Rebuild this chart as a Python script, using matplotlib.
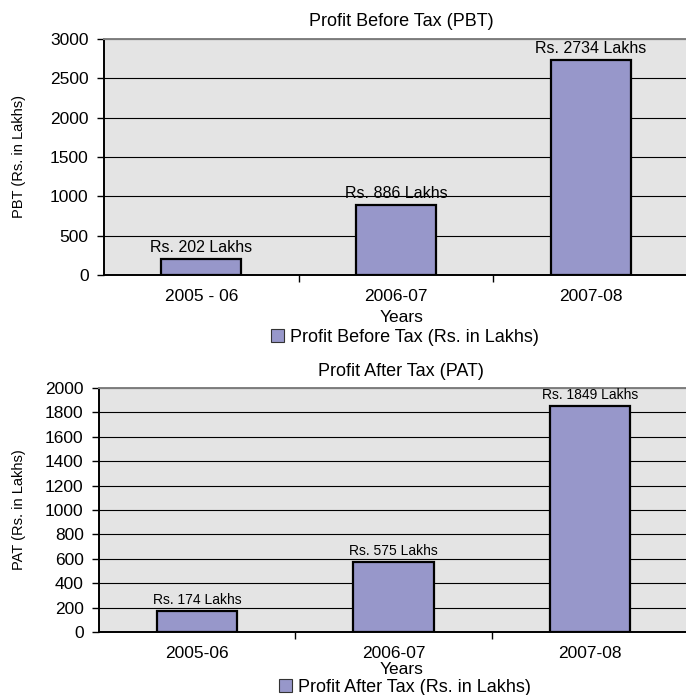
import matplotlib
matplotlib.use('Agg')
import matplotlib.pyplot as plt
from matplotlib.patches import Patch
import numpy as np

plt.rcParams['font.family'] = ['Liberation Sans', 'DejaVu Sans']

# Datos
pbt_years = ['2005 - 06', '2006-07', '2007-08']
pbt_values = [202, 886, 2734]
pbt_labels = ['Rs. 202 Lakhs', 'Rs. 886 Lakhs', 'Rs. 2734 Lakhs']

pat_years = ['2005-06', '2006-07', '2007-08']
pat_values = [174, 575, 1849]
pat_labels = ['Rs. 174 Lakhs', 'Rs. 575 Lakhs', 'Rs. 1849 Lakhs']

bar_color = '#9797CA'
bg_color = '#E4E4E4'

fig = plt.figure(figsize=(6.86, 6.95), dpi=100)


def draw_chart(rect, years, values, labels, ymax, ystep, title, ylabel,
               legend_text, label_size, title_y, ylabel_y, years_y, legend_y):
    ax = fig.add_axes(rect)
    ax.set_facecolor(bg_color)
    x = np.arange(len(years))
    ax.bar(x, values, width=0.41, color=bar_color, edgecolor='black',
           linewidth=1.6, zorder=3)
    for xi, v, lab in zip(x, values, labels):
        ax.annotate(lab, (xi, v), xytext=(0, 3), textcoords='offset points',
                    ha='center', va='bottom', fontsize=label_size, zorder=4)

    ax.set_xlim(-0.5, len(years) - 0.5)
    ax.set_ylim(0, ymax)
    ax.set_yticks(np.arange(0, ymax + 1, ystep))
    ax.yaxis.grid(True, color='black', linewidth=0.8, zorder=1)
    ax.set_axisbelow(True)

    ax.set_xticks(x)
    ax.set_xticklabels(years, fontsize=12.5)
    ax.set_xticks(np.arange(0.5, len(years) - 0.5 + 0.01, 1), minor=True)
    ax.tick_params(axis='x', which='major', length=0, pad=10)
    ax.tick_params(axis='x', which='minor', length=5, width=1, direction='out')
    ax.tick_params(axis='y', length=5, width=1, direction='out', labelsize=12.5, pad=6)

    for side in ['left', 'bottom']:
        ax.spines[side].set_color('black')
        ax.spines[side].set_linewidth(1.4)
    for side in ['top', 'right']:
        ax.spines[side].set_color('#808080')
        ax.spines[side].set_linewidth(1.4)

    fig.text(0.585, title_y, title, ha='center', va='center', fontsize=13)
    fig.text(0.027, ylabel_y, ylabel, ha='center', va='center', rotation=90, fontsize=10.5)
    fig.text(0.585, years_y, 'Years', ha='center', va='center', fontsize=12.5)
    fig.legend(handles=[Patch(facecolor=bar_color, edgecolor='#333333', linewidth=0.8)],
               labels=[legend_text], loc='center', bbox_to_anchor=(0.59, legend_y),
               frameon=False, fontsize=13, handlelength=0.75, handleheight=0.75,
               handletextpad=0.3, borderpad=0)
    return ax


draw_chart([104 / 686, 1 - 275 / 695, 584 / 686, 236 / 695],
           pbt_years, pbt_values, pbt_labels, 3000, 500,
           'Profit Before Tax (PBT)', 'PBT (Rs. in Lakhs)',
           'Profit Before Tax (Rs. in Lakhs)', 11.5,
           1 - 21 / 695, 1 - 157 / 695, 1 - 318 / 695, 1 - 337 / 695)

draw_chart([99 / 686, 1 - 632 / 695, 589 / 686, 244 / 695],
           pat_years, pat_values, pat_labels, 2000, 200,
           'Profit After Tax (PAT)', 'PAT (Rs. in Lakhs)',
           'Profit After Tax (Rs. in Lakhs)', 10,
           1 - 371 / 695, 1 - 510 / 695, 1 - 670 / 695, 1 - 687 / 695)

fig.savefig('out.png', dpi=100)
